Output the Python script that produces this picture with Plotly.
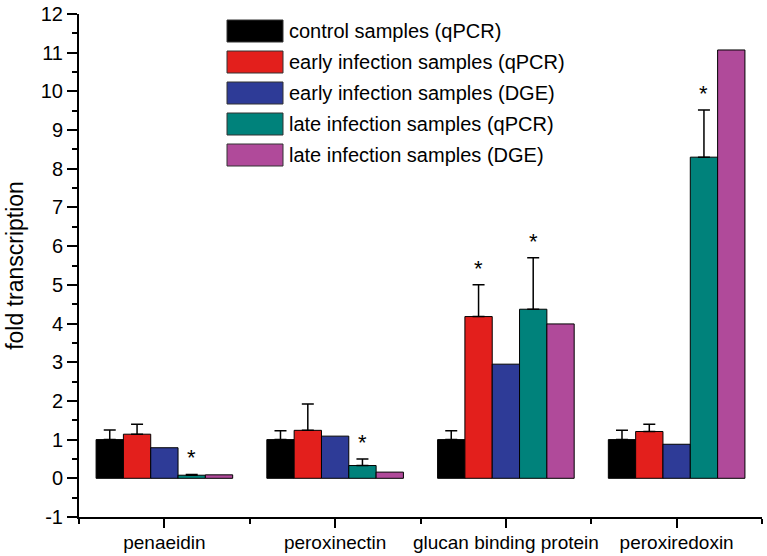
import plotly.graph_objects as go

# genes on the x axis
genes = ["penaeidin", "peroxinectin", "glucan binding protein", "peroxiredoxin"]

series_names = [
    "control samples (qPCR)",
    "early infection samples (qPCR)",
    "early infection samples (DGE)",
    "late infection samples (qPCR)",
    "late infection samples (DGE)",
]
colors = ["#000000", "#E31F1C", "#2E3B97", "#00827B", "#B04A9A"]

# fold transcription values
control_qpcr = [1.0, 1.0, 1.0, 1.0]
control_qpcr_err = [0.25, 0.23, 0.23, 0.24]
early_qpcr = [1.14, 1.24, 4.18, 1.21]
early_qpcr_err = [0.26, 0.68, 0.82, 0.19]
early_dge = [0.79, 1.09, 2.95, 0.88]
late_qpcr = [0.08, 0.33, 4.37, 8.30]
late_qpcr_err = [0.02, 0.17, 1.33, 1.22]
late_dge = [0.09, 0.16, 3.99, 11.07]

# significance marks (*)
early_qpcr_sig = [False, False, True, False]
late_qpcr_sig = [True, True, True, True]

y_ticks = list(range(-1, 13))

values = [control_qpcr, early_qpcr, early_dge, late_qpcr, late_dge]
errors = [control_qpcr_err, early_qpcr_err, None, late_qpcr_err, None]
sigs = [None, early_qpcr_sig, None, late_qpcr_sig, None]

x = list(range(len(genes)))
n = len(series_names)
bargap = 0.2
bw = (1 - bargap) / n

fig = go.Figure()
for j in range(n):
    err = None
    if errors[j] is not None:
        err = dict(type="data", symmetric=False, array=errors[j],
                   arrayminus=[0] * len(genes), color="black",
                   thickness=1.5, width=6)
    fig.add_trace(go.Bar(
        x=x, y=values[j], name=series_names[j],
        marker=dict(color=colors[j], line=dict(color="black", width=1)),
        error_y=err, showlegend=False,
    ))

# stars above the error bars
for j in range(n):
    if sigs[j] is None:
        continue
    off = -0.5 + bargap / 2 + bw * (j + 0.5)
    for i, s in enumerate(sigs[j]):
        if s:
            top = values[j][i] + (errors[j][i] if errors[j] else 0)
            fig.add_annotation(x=i + off, y=top, text="*", showarrow=False,
                               yanchor="bottom", yshift=2,
                               font=dict(size=22, color="black"))

W, H = 767, 556
L, R, T, B = 79, 5, 14, 39
pw, ph = W - L - R, H - T - B
py1 = H - B

# legend drawn as big swatches
for j in range(n):
    yc = 31 + 31 * j
    fig.add_shape(type="rect", xref="paper", yref="paper",
                  x0=(227 - L) / pw, x1=(283 - L) / pw,
                  y0=(py1 - (yc + 11)) / ph, y1=(py1 - (yc - 11)) / ph,
                  fillcolor=colors[j], line=dict(color="#333333", width=1))
    fig.add_annotation(xref="paper", yref="paper", x=(287 - L) / pw,
                       y=(py1 - yc) / ph, text=series_names[j],
                       showarrow=False, xanchor="left", yanchor="middle",
                       font=dict(size=20, color="black"))

fig.update_layout(
    width=W, height=H,
    margin=dict(l=L, r=R, t=T, b=B),
    barmode="group", bargap=bargap, bargroupgap=0,
    plot_bgcolor="white", paper_bgcolor="white",
    font=dict(family="Liberation Sans, Arial, sans-serif", color="black"),
)
fig.update_xaxes(
    range=[-0.5, len(genes) - 0.5], automargin=False,
    tickmode="array", tickvals=x, ticktext=genes,
    ticks="outside", ticklen=9, tickwidth=1.5, tickcolor="black",
    tickfont=dict(size=19), ticklabelstandoff=-2,
    showline=True, linecolor="black", linewidth=2,
    showgrid=False, zeroline=False,
    minor=dict(tickmode="array", tickvals=[i - 0.5 for i in range(len(genes) + 1)],
               ticks="outside", ticklen=5, tickwidth=1.5, tickcolor="black"),
)
fig.update_yaxes(
    range=[-1, 12], automargin=False,
    tickmode="array", tickvals=y_ticks,
    ticktext=[str(v) for v in y_ticks],
    ticks="outside", ticklen=10, tickwidth=1.5, tickcolor="black",
    tickfont=dict(size=20),
    showline=True, linecolor="black", linewidth=2,
    showgrid=False, zeroline=False,
    minor=dict(dtick=0.5, tick0=0, ticks="outside", ticklen=5, tickwidth=1.5,
               tickcolor="black"),
    title=dict(text="fold transcription", font=dict(size=23), standoff=11),
)

# drop the default page margin so the figure sits at the top-left corner
fig.write_html("out.html", config={"displayModeBar": False},
               post_script="document.body.style.margin='0';")
